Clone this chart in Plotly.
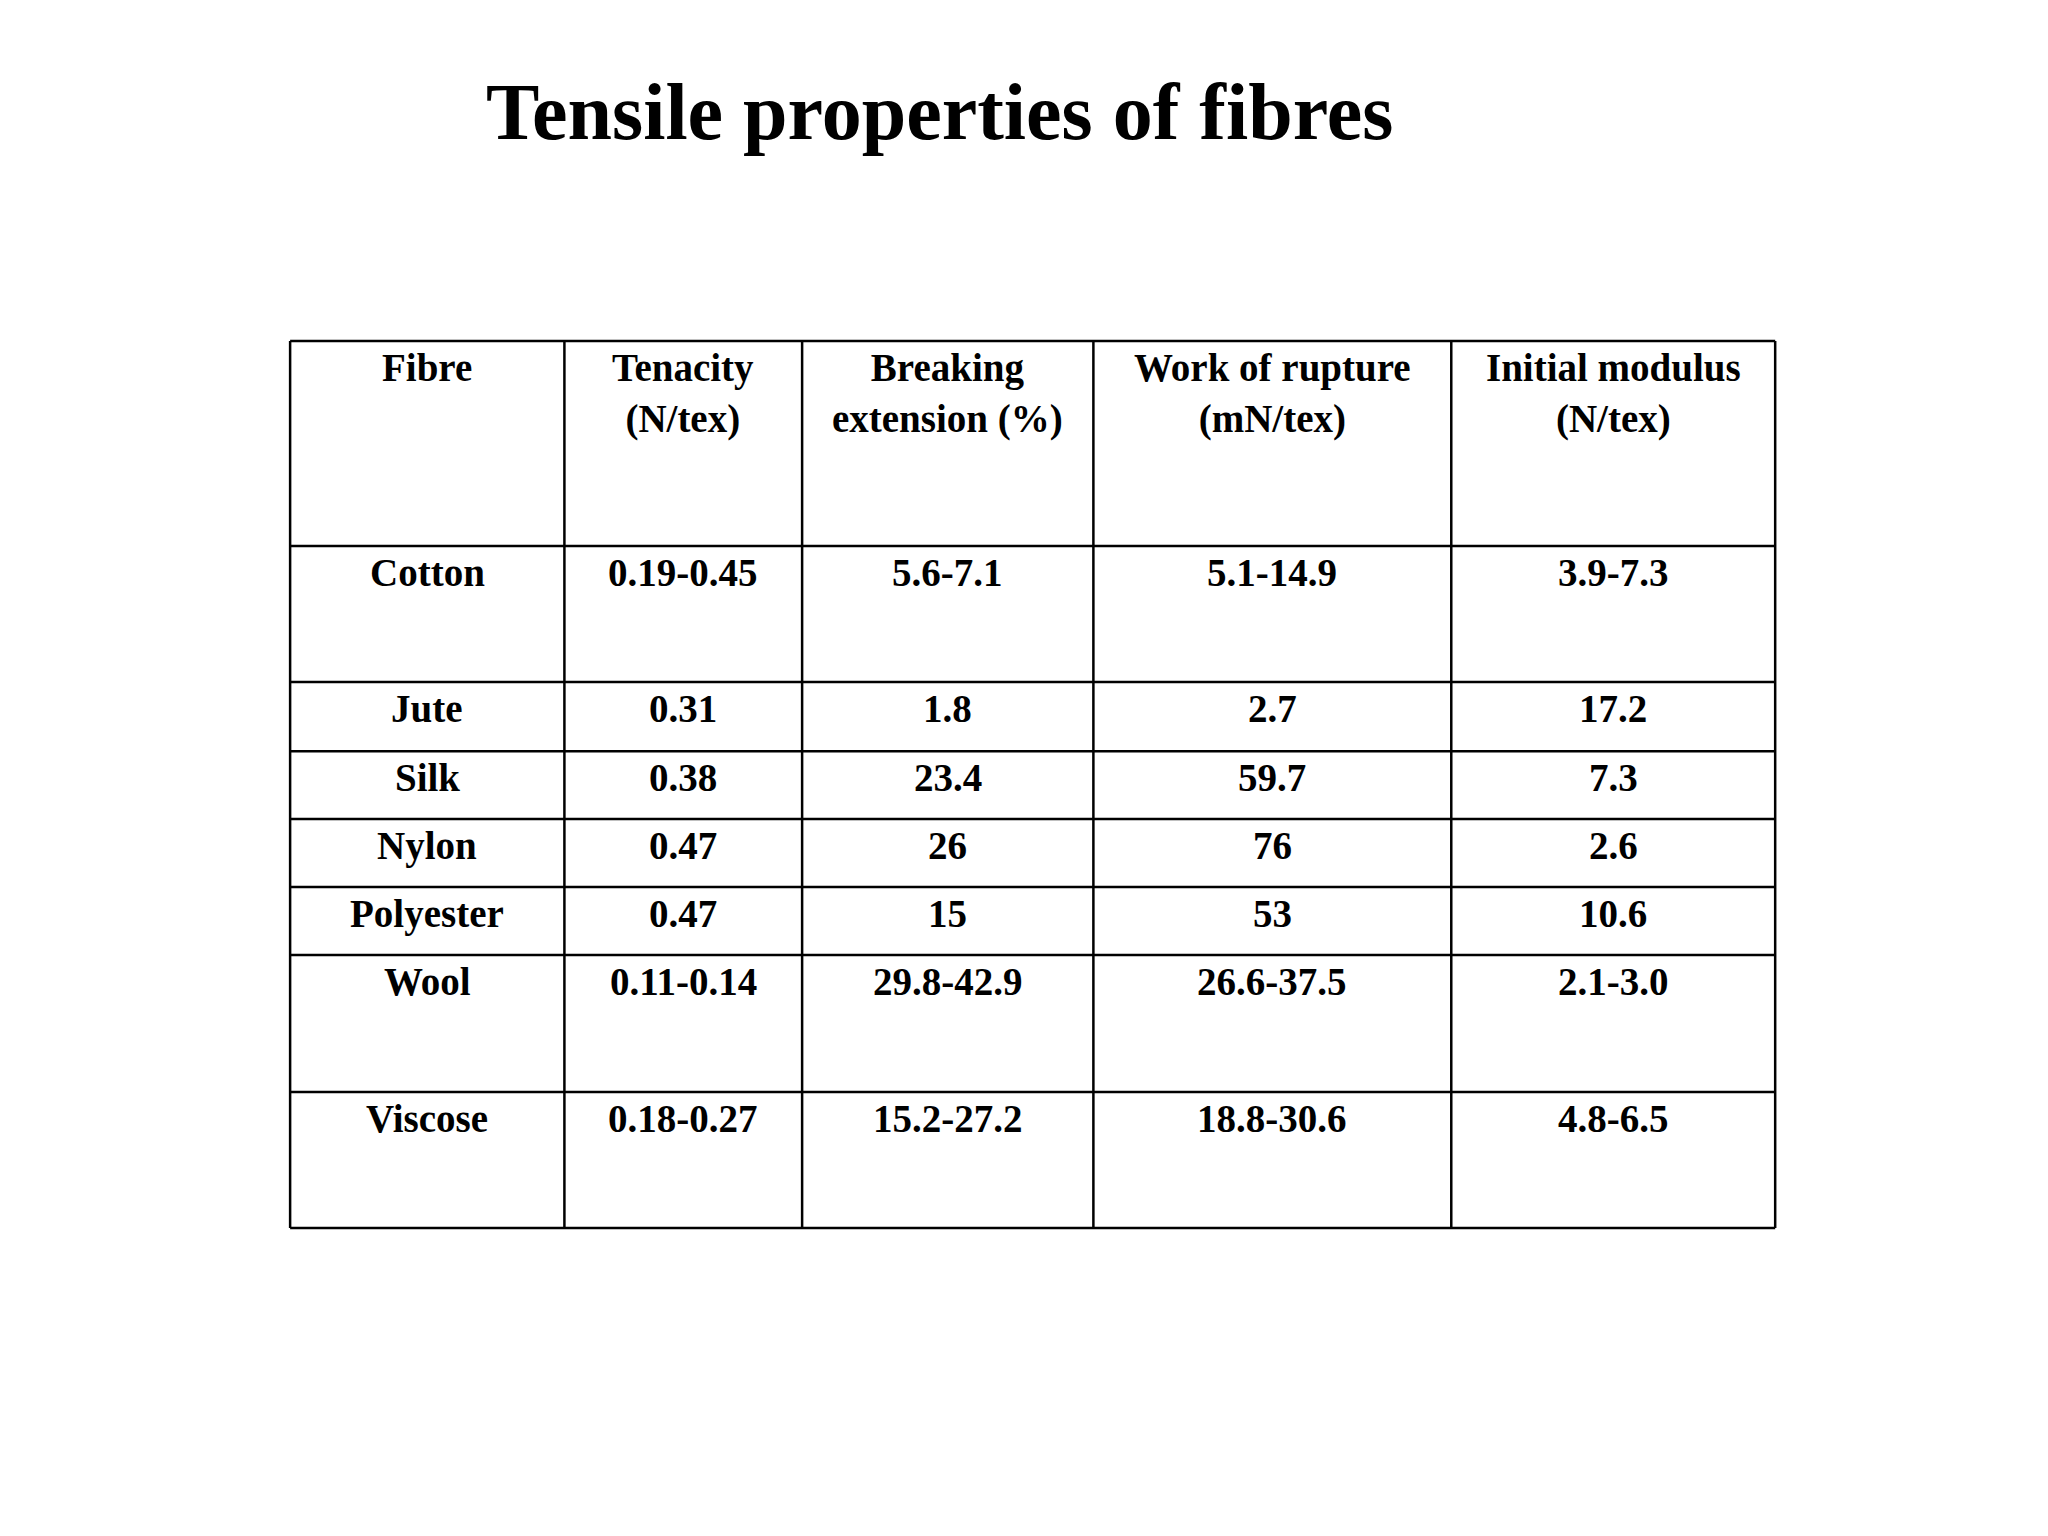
import plotly.graph_objects as go

title = "Tensile properties of fibres"
headers = ["Fibre", "Tenacity<br>(N/tex)", "Breaking<br>extension (%)", "Work of rupture<br>(mN/tex)", "Initial modulus<br>(N/tex)"]
fibres = ["Cotton", "Jute", "Silk", "Nylon", "Polyester", "Wool", "Viscose"]
tenacity = ["0.19-0.45", "0.31", "0.38", "0.47", "0.47", "0.11-0.14", "0.18-0.27"]
breaking_ext = ["5.6-7.1", "1.8", "23.4", "26", "15", "29.8-42.9", "15.2-27.2"]
work_rupture = ["5.1-14.9", "2.7", "59.7", "76", "53", "26.6-37.5", "18.8-30.6"]
init_modulus = ["3.9-7.3", "17.2", "7.3", "2.6", "10.6", "2.1-3.0", "4.8-6.5"]

# layout (display units, 1568 x 1176 canvas scaled to 2048 x 1536)
col_x = [222, 432, 614, 837, 1111, 1359]
row_y = [261, 418, 522, 575, 627, 679, 731, 836, 940]
FONT = "Liberation Serif, Times New Roman, serif"

fig = go.Figure()
shapes = []
for x in col_x:
    shapes.append(dict(type="line", x0=x, x1=x, y0=row_y[0], y1=row_y[-1], xref="x", yref="y",
                       line=dict(color="black", width=2.5)))
for y in row_y:
    shapes.append(dict(type="line", x0=col_x[0], x1=col_x[-1], y0=y, y1=y, xref="x", yref="y",
                       line=dict(color="black", width=2.5)))

rows = [headers] + [list(r) for r in zip(fibres, tenacity, breaking_ext, work_rupture, init_modulus)]
ann = []
for i, r in enumerate(rows):
    for j, t in enumerate(r):
        ann.append(dict(x=(col_x[j] + col_x[j + 1]) / 2, y=row_y[i] + 2, text="<b>%s</b>" % t,
                        xref="x", yref="y", xanchor="center", yanchor="top", showarrow=False,
                        font=dict(family=FONT, size=39, color="black")))
ann.append(dict(x=719, y=86, text="<b>%s</b>" % title, xref="x", yref="y", xanchor="center",
                yanchor="middle", showarrow=False, font=dict(family=FONT, size=80, color="black")))

fig.update_layout(width=2048, height=1536, margin=dict(l=0, r=0, t=0, b=0),
                  paper_bgcolor="white", plot_bgcolor="white", shapes=shapes, annotations=ann,
                  xaxis=dict(range=[6, 1574], visible=False, fixedrange=True),
                  yaxis=dict(range=[1182, 6], visible=False, fixedrange=True),
                  showlegend=False)
fig.write_html("out.html")
